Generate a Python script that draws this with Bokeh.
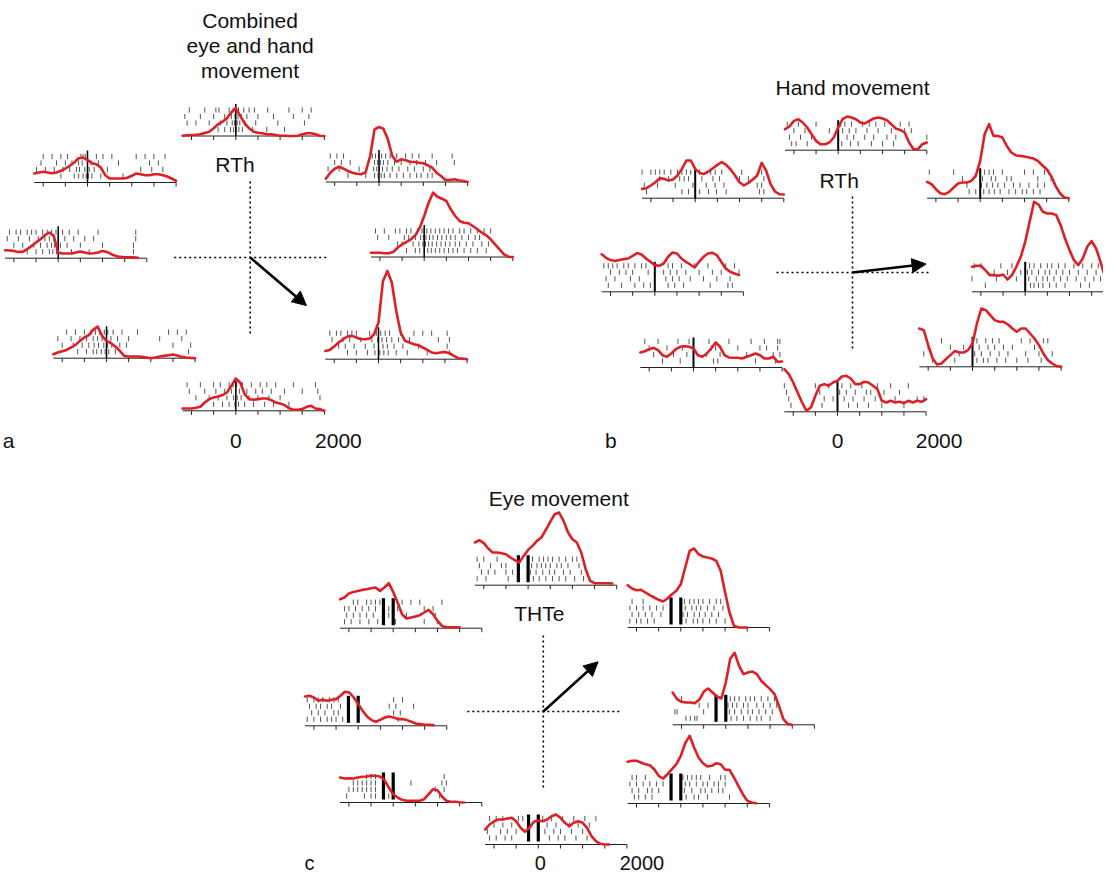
import math
from bokeh.plotting import figure
from bokeh.models import Range1d, Arrow, NormalHead, ColumnDataSource
from bokeh.core.properties import value
from bokeh.embed import file_html
from bokeh.resources import INLINE

NaN = float("nan")

# ---------------- data ----------------
TIME_MS = list(range(-1200, 2001, 100))          # time bins of the rate curves
TICK_MS = [-1000, -500, 0, 500, 1000, 1500, 2000]
AXIS_MS = (-1200, 2000)
TICK_LABELS = ["0", "2000"]
TICK_LABEL_MS = [0, 2000]

# firing rates (sp/s) for each direction, panel a: combined eye and hand movement
A_TOP = [0.3, 0.7, 1.0, 1.3, 1.7, 3.0, 4.3, 7.7, 11.7, 14.3, 17.7, 23.7, 27.7, 20.3, 12.7, 7.7, 4.3, 3.3, 2.7, 1.7, 1.7, 1.0, 0.3, 0.2, 0.0, 0.0, 0.3, 1.7, 2.7, 2.7, 1.7, 0.3, 0.0]
A_UL = [9, 10, 10.7, 10, 9.3, 10, 11.7, 14, 16.7, 20, 24.3, 25, 22.3, 19.3, 18.3, 15, 7.3, 4, 4, 4, 4, 4.7, 6.7, 9, 8.3, 7.3, 7.3, 8.3, 8.3, 7.3, 6, 4, 1.7]
A_L = [8, 7.7, 7.3, 6.3, 6.3, 9, 12.3, 15.7, 19, 23, 25.7, 22.3, 5.7, 4.7, 4.7, 4.7, 5.7, 6.7, 5.7, 4.7, 5, 5.7, 7.3, 6.3, 4, 2.3, 1.3, 1, 1, 1, 0.3, NaN, NaN]
A_LL = [4, 5.7, 7, 8.3, 10.7, 13.3, 17.3, 20.7, 23, 28.3, 31.7, 22.3, 17.3, 15, 11.7, 7.3, 2.3, 1.7, 1.7, 1.7, 1.3, 0.7, 0, 0.7, 1.7, 2.3, 3, 3.7, 2.7, 1.3, 0.7, 0.3, 0]
A_BOTTOM = [2.3, 2.3, 2.3, 3, 4, 8.3, 11.7, 13.3, 14.3, 15.7, 18.3, 25, 32.3, 28.3, 16.7, 11.7, 11, 11.7, 12.3, 12.3, 10.7, 8.3, 7.3, 5.7, 2.7, 1, 1, 1.7, 4, 5, 2.3, 1.7, 0]
A_UR = [3.3, 9.3, 13.3, 15.3, 13.3, 11, 9.3, 8.3, 7.7, 10, 26, 52.7, 55, 53.3, 42.7, 26, 20.3, 22.7, 21.7, 20.3, 20, 19.3, 18.7, 16.7, 14.3, 9.3, 6, 2, 2, 2.7, 1.7, 1, 0]
A_R = [4.3, 4.3, 4.3, 3.7, 3.7, 5, 9.3, 12.7, 15, 17.7, 21.7, 29.3, 41, 54.3, 64.3, 60.3, 58.3, 56, 47.7, 41, 36, 34.3, 33.7, 31, 27.7, 24.3, 21.7, 17.7, 12.7, 7.7, 2.7, 0.3, 0]
A_LR = [8.3, 9.3, 12.7, 16.7, 20, 22.7, 23.3, 21.7, 20, 20, 20.7, 25, 36.7, 78, 88.3, 76.7, 48.3, 26.7, 18.3, 16.7, 15, 14, 11.7, 9.3, 6.7, 6, 6.7, 7.3, 6, 3.3, 1, 0.7, 0]

# panel b: hand movement
B_TOP = [21, 23.7, 29.3, 31, 27.7, 22.7, 16, 9.3, 6, 6, 7.7, 12.7, 22.7, 31, 33.7, 32.7, 31, 27.7, 26.7, 29.3, 31.7, 32.7, 31.7, 30, 26, 21.7, 20.3, 17.7, 7.7, 1, 1, 6, 7.7]
B_UL = [9.3, 10, 12.7, 16, 20, 19.3, 17.7, 18.7, 22.7, 29.3, 37.7, 37.7, 29.3, 25.3, 24.3, 26.7, 30, 33.3, 36, 33.3, 28.7, 22.7, 16, 12.7, 15.3, 18.7, 22.7, 35.3, 27.7, 14.3, 6.7, 4, 3.7]
B_L = [37.5, 34, 31.7, 30.7, 31.7, 32.7, 33.3, 36, 38.7, 37.3, 33.3, 30, 26.7, 26, 28.3, 35, 39.3, 38.3, 33.3, 30, 27.3, 24.3, 30, 35, 38.3, 39, 36.7, 30, 23.3, 20, 18.3, 16.7, NaN]
B_LL = [15, 16.3, 18.3, 19.7, 17.3, 12.3, 10.7, 14, 18.3, 20.7, 21.3, 20.7, 19, 12.3, 10.7, 14, 19, 25, 20.7, 12.3, 10, 9.7, 9.7, 9, 10.7, 12.3, 14, 12.3, 9, 9, 10.7, 5.7, 6]
B_BOTTOM = [42.7, 37.7, 29.3, 19.3, 9.3, 1, 4.3, 16, 26, 27.7, 26, 29.3, 31, 35.3, 36, 33.3, 27.7, 27.7, 30, 29.3, 26, 22.7, 11, 9.3, 11, 9.3, 10, 8.7, 11, 9.3, 11, 10, 12.7]
B_UR = [16.3, 14, 9, 5, 4, 6.3, 10.7, 14.7, 15.7, 15.7, 17.3, 22.3, 37.3, 64, 74, 62.3, 62.3, 60.7, 52.3, 45.7, 43, 42.3, 41.7, 40.7, 39.7, 37.3, 33, 29, 22.3, 12.3, 5, 0.7, 0]
B_R = [25, 26, 26, 21.7, 16.7, 16.7, 16, 17.3, 12.3, 16.7, 25, 35, 50, 70, 90, 87.3, 80, 78.3, 78.3, 76.7, 66.7, 53.3, 41.7, 31.7, 26.7, 33.3, 45, 50.7, 43.3, 30, 15, 3.3, NaN]
B_LR = [38.3, 36.7, 21.7, 8.3, 2.3, 3.3, 7.7, 11.7, 15.7, 14.3, 14.3, 16.7, 23.3, 43.3, 58.3, 56.7, 51.7, 46.7, 45, 45, 42.3, 38.3, 35, 38.3, 38.3, 33.3, 28.3, 21.7, 13.3, 6.7, 3.3, 0.7, 0]

# panel c: eye movement
C_TOP = [42.7, 45, 42, 36.7, 32.7, 32.7, 32, 31, 27.7, 25, 22.7, 29.3, 35.3, 39.3, 44.3, 47.7, 55.3, 63.3, 71, 72.7, 64.3, 53, 46, 42.7, 32.7, 16, 4.3, 2, 2, 2, 2, 1.7, NaN]
C_UL = [29, 30.7, 34.7, 36.3, 37.3, 38.3, 39, 40, 40.7, 37.3, 40.7, 45, 36.3, 25.7, 14, 9.7, 10.7, 11.7, 13, 15.7, 18.3, 14, 7.3, 2.3, 1, 1, 1, 1, NaN, NaN, NaN, NaN, NaN]
C_L = [29.3, 30, 28.3, 25, 26, 25, 26, 26.7, 30, 34, 33.3, 28.3, 21.7, 15, 9.3, 5.7, 4, 6, 8.3, 9.3, 8.3, 6.7, 6.7, 5.7, 4, 2.3, 1.7, 1, 1, 0.7, NaN, NaN, NaN]
C_LL = [25, 24, 24.3, 24, 25, 25.7, 26, 26.7, 26.7, 26, 22.7, 15, 8.3, 5, 2.7, 1.7, 1.7, 1.7, 1.7, 3.3, 8.3, 13.3, 12.3, 6, 1.7, 0.7, 0.7, 0.3, 0, NaN, NaN, NaN, NaN]
C_BOTTOM = [15, 20, 23.3, 25, 25, 26, 26.7, 23.3, 16.7, 12.7, 16.7, 22.7, 24, 23.3, 25, 28.3, 30, 26.7, 21.7, 18.3, 21.7, 23.3, 21.7, 16.7, 8.3, 3.3, 0.7, 0, 0, NaN, NaN, NaN, NaN]
C_UR = [42.3, 39, 37.3, 37.7, 35, 32.3, 30, 27.7, 26, 29, 33.3, 36.7, 43.3, 60, 76.7, 79, 73.3, 71, 70, 69, 66.7, 56.7, 35, 15, 1.7, 0, 0, 0, NaN, NaN, NaN, NaN, NaN]
C_R = [32.3, 25.7, 23, 22.3, 22.3, 21.7, 25, 33, 36.3, 32.3, 28.3, 26.3, 42.3, 66, 72, 59, 50.7, 52.3, 53.3, 50.7, 44, 39.7, 35.7, 30.7, 19, 5.7, 0.7, 0, NaN, NaN, NaN, NaN, NaN]
C_LR = [41.7, 42.7, 42.7, 41, 39.3, 38.3, 34.3, 27.7, 25, 29.3, 34.3, 39.3, 47.7, 60.3, 67.7, 56, 46, 40.3, 37, 37.7, 40.3, 39.3, 33.7, 33.7, 26, 17.7, 9.3, 2.7, 1, 0.3, NaN, NaN, NaN]

# spike rasters (ms), four trials per direction, top trial first
A_TOP_SPK = [[-1050, -700, -450, -380, -150, -60, 0, 60, 180, 300, 420, 720, 1200, 1500, 1700],
             [-1150, -800, -500, -250, -100, -20, 50, 120, 250, 500, 850, 1300, 1650],
             [-1100, -900, -600, -350, -200, -80, -30, 30, 90, 200, 450, 950, 1550],
             [-400, -250, -120, -50, 10, 70, 150, 380, 700, 1100]]
A_UL_SPK = [[-1000, -800, -600, -450, -150, -100, -50, 200, 350, 550, 1100, 1300, 1500, 1750],
            [-1050, -700, -500, -350, -200, -120, 0, 80, 250, 700, 1400, 1600],
            [-1150, -950, -750, -550, -400, -250, -180, -60, 40, 150, 450, 1200, 1450, 1700],
            [-600, -300, -200, -100, -30, 20, 100, 300, 800]]
A_L_SPK = [[-1100, -950, -850, -700, -600, -500, -350, -250, -150, -50, 100, 250, 450, 900, 1750],
           [-1150, -900, -650, -450, -300, -200, -100, 0, 150, 350, 600, 800, 1750],
           [-1000, -800, -550, -400, -250, -150, -80, 50, 200, 500, 1000, 1700],
           [-700, -500, -350, -200, -120, -40, 300, 700, 1700]]
A_LL_SPK = [[-900, -700, -500, -350, -250, -150, -50, 30, 150, 350, 700, 1400, 1600, 1800],
            [-1100, -800, -600, -450, -300, -200, -100, 0, 100, 250, 500, 1200, 1700],
            [-1000, -750, -550, -400, -280, -180, -60, 20, 120, 300, 450, 1500, 1900],
            [-650, -450, -300, -220, -120, -30, 50, 200, 1850]]
A_BOTTOM_SPK = [[-1100, -800, -500, -350, -150, -60, 20, 150, 350, 550, 700, 900, 1300, 1800],
                [-1050, -700, -450, -250, -100, 0, 80, 250, 450, 600, 800, 1100, 1500, 1850],
                [-900, -600, -400, -200, -50, 30, 120, 300, 500, 750, 1000, 1900],
                [-500, -300, -150, -20, 60, 200, 400, 650, 850, 1200]]
A_UR_SPK = [[-1100, -950, -800, -150, -80, 0, 60, 150, 250, 400, 600, 750, 900, 1200, 1650],
            [-1000, -850, -650, -100, -30, 30, 100, 200, 350, 500, 700, 850, 1050, 1300, 1700],
            [-1150, -900, -450, -120, -50, 10, 80, 180, 300, 450, 650, 800, 1000, 1150],
            [-700, -300, -100, -20, 50, 120, 250, 400, 550, 700, 850, 950, 1100, 1200]]
A_R_SPK = [[-1100, -900, -650, -550, -400, -300, -150, -50, 0, 60, 150, 250, 350, 450, 550, 650, 800, 900, 1050, 1200, 1350, 1500],
           [-1050, -800, -450, -350, -200, -80, -20, 40, 120, 200, 300, 400, 500, 600, 700, 850, 1000, 1150, 1250],
           [-600, -500, -250, -120, -30, 30, 100, 180, 280, 380, 480, 580, 700, 800, 950, 1100, 1300, 1450],
           [-400, -200, -100, 0, 80, 160, 250, 350, 450, 550, 650, 750, 900, 1050, 1200, 1400]]
A_LR_SPK = [[-1100, -950, -850, -700, -600, -500, -200, -50, 50, 150, 250, 500, 800, 1000, 1200, 1550],
            [-1050, -800, -650, -400, -150, -20, 80, 180, 300, 450, 700, 1350, 1600],
            [-900, -750, -550, -300, -100, 0, 100, 200, 350, 550, 900, 1550],
            [-700, -500, -250, -80, 30, 120, 220, 400, 650, 1100, 1600]]

B_TOP_SPK = [[-1150, -900, -500, 50, 150, 300, 550, 700, 850, 1050, 1400, 1600],
             [-1000, -750, -200, 100, 250, 400, 650, 900, 1200, 1500, 1650],
             [-1100, -850, -600, 0, 200, 350, 600, 800, 1100, 1300, 2000],
             [-1050, -950, -700, 80, 280, 450, 750, 1000, 1250]]
B_UL_SPK = [[-1200, -1000, -900, -800, -700, -550, -400, -300, -200, -100, 100, 350, 450, 600, 1050, 1500],
            [-800, -600, -350, -250, -150, 150, 400, 550, 1000, 1200, 1550],
            [-1150, -850, -450, -50, 250, 450, 650, 1400, 1500],
            [-1100, -300, -150, 100, 300, 480, 700, 1450, 1550]]
B_L_SPK = [[-1150, -1050, -950, -850, -700, -600, -450, -300, -200, 300, 400, 600, 900, 1200, 1600, 1800],
           [-1000, -800, -650, -500, -150, 200, 350, 500, 700, 1000, 1300, 1500, 1900],
           [-1100, -900, -550, -350, 250, 400, 550, 800, 1100, 1400, 1700],
           [-1050, -750, -450, -250, -100, 300, 450, 650, 1250, 1650, 1750]]
B_LL_SPK = [[-1100, -800, -350, -100, 0, 350, 800, 1300, 1600, 1900, 1950],
            [-1000, -600, -250, 400, 500, 1000, 1500, 1650, 1900],
            [-900, -450, -150, 300, 600, 1200, 1800, 1950],
            [-700, -300, 450, 550, 1400, 1850]]
B_BOTTOM_SPK = [[-1200, -500, -200, 100, 300, 550, 900, 1200, 1600],
                [-1150, -400, 50, 200, 400, 650, 750, 1050, 1400],
                [-1100, -300, -100, 150, 350, 600, 850, 1300, 1800, 1950],
                [-1050, -350, 250, 450, 700, 1000, 1500]]
B_UR_SPK = [[-1150, -600, 100, 200, 300, 500, 1000, 1200, 1450, 1550],
            [-400, 50, 250, 350, 600, 700, 1300, 1600],
            [-300, 30, 150, 280, 400, 550, 750, 900, 1100, 1300, 1450],
            [-250, -100, 80, 200, 320, 450, 650, 800, 950, 1050, 1200, 1350]]
B_R_SPK = [[-1150, -1000, -550, -300, 100, 200, 350, 500, 600, 750, 900, 1100, 1300, 1500, 1650],
           [-700, -400, -100, 50, 150, 300, 450, 550, 700, 850, 1000, 1200, 1400, 1600],
           [-1200, -650, -200, 80, 250, 400, 500, 650, 800, 950, 1150, 1350, 1550, 1700],
           [-900, 0, 120, 200, 300, 400, 550, 700, 900, 1250, 1450]]
B_LR_SPK = [[-700, 100, 300, 450, 600, 1100, 1300, 1600, 1700],
            [-1000, -500, -200, 150, 350, 500, 700, 900, 1400],
            [-1100, -300, 50, 200, 400, 600, 800, 1200, 1500, 1800],
            [-900, -400, 100, 250, 350, 550, 750, 1000, 1250, 1550]]

C_TOP_SPK = [[-1150, -1000, -700, 100, 250, 350, 450, 550, 700, 850, 1000, 1100],
             [-1100, -850, -600, -500, 80, 200, 300, 400, 500, 650, 750, 900, 1150],
             [-1050, -900, -750, -500, -350, 50, 180, 330, 480, 600, 800, 950, 1200],
             [-1150, -950, -450, 120, 250, 400, 550, 700, 850, 1050, 1250]]
C_UL_SPK = [[-900, -800, -600, -500, -400, -300, 200, 400, 600, 1100],
            [-1100, -1000, -850, -700, -550, -400, -100, 100, 700, 900],
            [-1050, -900, -750, -600, -450, -100, 300, 950],
            [-1100, -950, -750, -550, -350, 50, 700, 1000]]
C_L_SPK = [[-1150, -1000, -900, -800, -650, -550, -450, 800, 1000],
           [-1100, -950, -850, -700, -600, -400, 700, 850, 1250],
           [-1050, -900, -750, -550, -450, 800, 950],
           [-1150, -1000, -850, -700, -600, -500, -350, 900]]
C_LL_SPK = [[-600, -500, -400, 1150],
            [-900, -800, -700, -600, -500, -400, 400, 1100, 1200],
            [-1000, -900, -800, -700, -600, -500, -400, 950, 1150],
            [-1050, -650, -500, -400, -100, 1050]]
C_BOTTOM_SPK = [[-1100, -950, -800, -450, -350, 100, 300, 550, 800, 1050, 1300],
                [-1000, -800, -600, -200, 200, 400, 700, 900, 1150],
                [-1150, -850, -700, -500, 150, 350, 500, 750, 1000],
                [-1100, -950, -750, -600, 250, 450, 600, 850, 1100]]
C_UR_SPK = [[-1100, -850, 80, 200, 300, 400, 500, 650, 800, 900],
            [-1150, -1000, -850, -700, -550, -400, 100, 250, 350, 450, 600, 750, 950],
            [-1100, -950, -800, -650, -450, 50, 150, 300, 420, 550, 700, 850],
            [-1150, -1000, -900, -750, -600, 120, 280, 380, 500, 650, 800, 1000]]
C_R_SPK = [[-1000, 100, 200, 300, 450, 550, 650, 800, 950, 1100],
           [-600, -400, 50, 150, 250, 400, 500, 700, 850, 1000, 1150],
           [-1150, -1100, -500, 80, 200, 350, 500, 600, 750, 900, 1050],
           [-900, -800, -700, -650, 120, 250, 400, 550, 700, 800, 1000]]
C_LR_SPK = [[-1100, -1000, -800, 50, 150, 250, 350, 450, 650, 900, 1000],
            [-1150, -1000, -850, -700, -550, -400, 100, 200, 350, 500, 600, 750, 850, 1000],
            [-1100, -950, -750, -650, -500, 80, 250, 450, 550, 700, 850, 950],
            [-1050, -950, -800, -650, 120, 300, 400, 600, 1100]]

# alignment markers (ms): panel c shows saccade onset and movement onset
C_MARKERS_MS = [-220, 0]

# movement direction of the preferred target (degrees, counter-clockwise from right)
ARROW_DEG = {"a": -40.5, "b": 6.6, "c": 42.2}

PANEL_LABELS = {"a": "a", "b": "b", "c": "c"}
TITLES = {"a": ["Combined", "eye and hand", "movement"], "b": ["Hand movement"], "c": ["Eye movement"]}
CELL_NAMES = {"a": "RTh", "b": "RTh", "c": "THTe"}

DATA = {
    "a": {"top": (A_TOP, A_TOP_SPK), "ul": (A_UL, A_UL_SPK), "l": (A_L, A_L_SPK), "ll": (A_LL, A_LL_SPK),
          "bottom": (A_BOTTOM, A_BOTTOM_SPK), "ur": (A_UR, A_UR_SPK), "r": (A_R, A_R_SPK), "lr": (A_LR, A_LR_SPK)},
    "b": {"top": (B_TOP, B_TOP_SPK), "ul": (B_UL, B_UL_SPK), "l": (B_L, B_L_SPK), "ll": (B_LL, B_LL_SPK),
          "bottom": (B_BOTTOM, B_BOTTOM_SPK), "ur": (B_UR, B_UR_SPK), "r": (B_R, B_R_SPK), "lr": (B_LR, B_LR_SPK)},
    "c": {"top": (C_TOP, C_TOP_SPK), "ul": (C_UL, C_UL_SPK), "l": (C_L, C_L_SPK), "ll": (C_LL, C_LL_SPK),
          "bottom": (C_BOTTOM, C_BOTTOM_SPK), "ur": (C_UR, C_UR_SPK), "r": (C_R, C_R_SPK), "lr": (C_LR, C_LR_SPK)},
}

# ---------------- layout (page pixels; the figure sits at the 8px page margin) ----------------
PX_PER_MS = 0.0443
PX_PER_RATE = 1.0
ROW_OFFSETS = [26, 19.5, 13, 6.5]
SPIKE_HALF = 2.6
TICK_LEN = 4
ZERO_LINE_H = 30
CROSS_HALF = 76
ARROW_LEN = 74

LAYOUT = {
    "a": {"center": (257.7, 265.0),
          "pos": {"top": (243.3, 143.5), "ul": (95.0, 190.0), "l": (65.7, 265.7), "ll": (114.0, 365.7),
                  "bottom": (243.3, 418.3), "ur": (386.5, 189.5), "r": (431.7, 264.5), "lr": (386.0, 366.7)},
          "title_xy": (257.6, 28.3), "title_dy": 25, "cell_xy": (242.5, 171.7),
          "label_xy": (16, 448.3), "tick_y": 448.3, "tick_dx": [0, 14], "label_font": "21px"},
    "b": {"center": (860.0, 280.0),
          "pos": {"top": (845.7, 157.7), "ul": (702.7, 205.7), "l": (662.3, 299.3), "ll": (701.0, 375.0),
                  "bottom": (845.0, 419.3), "ur": (987.7, 205.7), "r": (1032.7, 299.3), "lr": (980.0, 374.3)},
          "title_xy": (860.0, 95.0), "title_dy": 25, "cell_xy": (846.7, 187.7),
          "label_xy": (618.3, 448.3), "tick_y": 448.3, "tick_dx": [0, 13], "label_font": "21px"},
    "c": {"center": (550.8, 719.0),
          "pos": {"top": (535.6, 592.7), "ul": (400.7, 635.7), "l": (365.7, 733.3), "ll": (400.7, 810.0),
                  "bottom": (545.8, 852.0), "ur": (688.3, 635.0), "r": (733.3, 732.3), "lr": (688.3, 811.0)},
          "title_xy": (566.2, 506.0), "title_dy": 25, "cell_xy": (546.8, 620.7),
          "label_xy": (317.0, 870.0), "tick_y": 870.0, "tick_dx": [2, 15], "label_font": "20px"},
}

RED = "#dd1f26"
SPIKE_COLOR = "#555555"
FONT = value("Liberation Sans")
MARGIN = 8
FIG_W, FIG_H = 1103, 875

p = figure(width=FIG_W, height=FIG_H,
           x_range=Range1d(MARGIN, MARGIN + FIG_W), y_range=Range1d(MARGIN + FIG_H, MARGIN),
           output_backend="svg", toolbar_location=None, min_border=0)
p.axis.visible = False
p.grid.visible = False
p.outline_line_color = None
p.background_fill_color = "white"

seg = {k: dict(x0=[], y0=[], x1=[], y1=[]) for k in ["axis", "spike", "zero_a", "zero_b", "mark_c", "cross"]}

def add(kind, x0, y0, x1, y1):
    d = seg[kind]
    d["x0"].append(x0); d["y0"].append(y0); d["x1"].append(x1); d["y1"].append(y1)

texts = {}
curves = []
arrows = []

def add_text(size, x, y, s):
    d = texts.setdefault(size, dict(x=[], y=[], text=[]))
    d["x"].append(x); d["y"].append(y); d["text"].append(s)

for panel in ["a", "b", "c"]:
    lay = LAYOUT[panel]
    for key, (rate, spikes) in DATA[panel].items():
        zx, base = lay["pos"][key]
        X = lambda t, zx=zx: zx + t * PX_PER_MS
        add("axis", X(AXIS_MS[0]), base, X(AXIS_MS[1]), base)
        for t in TICK_MS:
            add("axis", X(t), base, X(t), base + TICK_LEN)
        for row, times in enumerate(spikes):
            yc = base - ROW_OFFSETS[row]
            for t in times:
                add("spike", X(t), yc - SPIKE_HALF, X(t), yc + SPIKE_HALF)
        if panel == "c":
            for t in C_MARKERS_MS:
                add("mark_c", X(t), base - 3, X(t), base - ZERO_LINE_H)
        elif panel == "a":
            add("zero_a", X(0), base, X(0), base - ZERO_LINE_H - 2)
        else:
            add("zero_b", X(0), base, X(0), base - ZERO_LINE_H)
        xs = [X(t) for t in TIME_MS]
        ys = [base - r * PX_PER_RATE if not math.isnan(r) else NaN for r in rate]
        curves.append((xs, ys))
    cx, cy = lay["center"]
    add("cross", cx - CROSS_HALF, cy, cx + CROSS_HALF, cy)
    add("cross", cx, cy - CROSS_HALF, cx, cy + CROSS_HALF)
    ang = math.radians(ARROW_DEG[panel])
    arrows.append((cx, cy, cx + ARROW_LEN * math.cos(ang), cy - ARROW_LEN * math.sin(ang)))
    tx, ty = lay["title_xy"]
    for i, line in enumerate(TITLES[panel]):
        add_text("21px", tx, ty + i * lay["title_dy"], line)
    add_text("21px", lay["cell_xy"][0], lay["cell_xy"][1], CELL_NAMES[panel])
    zx_b = lay["pos"]["bottom"][0]
    for lab, t, dx in zip(TICK_LABELS, TICK_LABEL_MS, lay["tick_dx"]):
        add_text(lay["label_font"], zx_b + t * PX_PER_MS + dx, lay["tick_y"], lab)
    add_text(lay["label_font"], lay["label_xy"][0], lay["label_xy"][1], PANEL_LABELS[panel])

p.segment(source=ColumnDataSource(seg["spike"]), x0="x0", y0="y0", x1="x1", y1="y1",
          line_color=SPIKE_COLOR, line_width=1)
p.segment(source=ColumnDataSource(seg["axis"]), x0="x0", y0="y0", x1="x1", y1="y1",
          line_color="#222222", line_width=1)
p.segment(source=ColumnDataSource(seg["zero_a"]), x0="x0", y0="y0", x1="x1", y1="y1",
          line_color="black", line_width=1.5)
p.segment(source=ColumnDataSource(seg["zero_b"]), x0="x0", y0="y0", x1="x1", y1="y1",
          line_color="black", line_width=2)
p.segment(source=ColumnDataSource(seg["mark_c"]), x0="x0", y0="y0", x1="x1", y1="y1",
          line_color="black", line_width=3.2)
p.segment(source=ColumnDataSource(seg["cross"]), x0="x0", y0="y0", x1="x1", y1="y1",
          line_color="black", line_width=1.6, line_dash="2 3")

for xs, ys in curves:
    p.line(xs, ys, line_color=RED, line_width=2.6, line_join="round", line_cap="round")

for x0, y0, x1, y1 in arrows:
    p.add_layout(Arrow(end=NormalHead(size=14, fill_color="black", line_color="black"),
                       x_start=x0, y_start=y0, x_end=x1, y_end=y1,
                       line_width=2.5, line_color="black"))

for size, d in texts.items():
    p.text(x="x", y="y", text="text", source=ColumnDataSource(d), text_font=FONT,
           text_font_size=size, text_align="center", text_baseline="alphabetic", text_color="#111111")

open("out.html", "w").write(file_html(p, INLINE))
